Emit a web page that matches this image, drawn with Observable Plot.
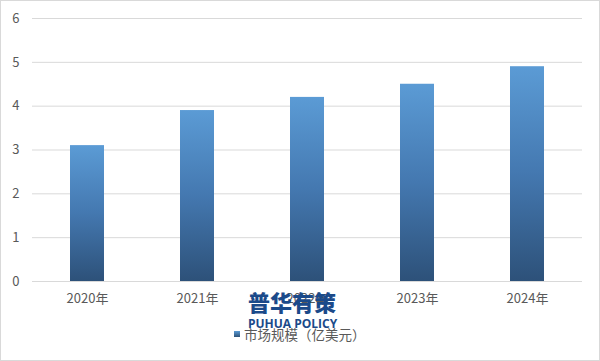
<!DOCTYPE html>
<html>
<head>
<meta charset="utf-8">
<script src="https://cdn.jsdelivr.net/npm/d3@7"></script>
<script src="https://cdn.jsdelivr.net/npm/@observablehq/plot@0.6"></script>
<style>
  body { margin: 0; background: #fff; }
  #wrap { position: relative; width: 600px; height: 361px; overflow: hidden; background: #fff;
          font-family: "Noto Sans CJK SC", "Microsoft YaHei", sans-serif; }
  #border { position: absolute; left: 0; top: 0; width: 600px; height: 361px; box-sizing: border-box;
            border: 1px solid #d9d9d9; pointer-events: none; }
  #chart { position: absolute; left: 0; top: 0; }
  #legend { position: absolute; left: 234px; top: 324px; display: flex; align-items: center;
            font-size: 13.5px; color: #595959; white-space: nowrap; }
  #legend .sw { width: 6px; height: 6px; margin-right: 4px;
                background: linear-gradient(#5b9bd5, #2e5278); }
  #wm { position: absolute; left: 248px; top: 288px; color: #1b4a8a; text-align: center; width: 88px; white-space: nowrap; }
  #wm .cn { font-size: 22px; font-weight: 900; line-height: 26px; }
  #wm .en { font-size: 12px; font-weight: 700; line-height: 13px; margin-top: 3px; font-family: "Open Sans", sans-serif; }
</style>
</head>
<body>
<div id="wrap">
  <div id="chart"></div>
  <div id="legend"><span class="sw"></span><span id="legtext"></span></div>
  <div id="wm"><div class="cn">普华有策</div><div class="en">PUHUA POLICY</div></div>
  <div id="border"></div>
</div>
<script>
const categories = ["2020年", "2021年", "2022年", "2023年", "2024年"];
const values = [3.1, 3.9, 4.2, 4.5, 4.9];
const yTicks = [0, 1, 2, 3, 4, 5, 6];
const seriesName = "市场规模（亿美元）";

const data = categories.map((c, i) => ({ year: c, value: values[i] }));

const chart = Plot.plot({
  width: 600,
  height: 320,
  marginTop: 18,
  marginBottom: 39,
  marginLeft: 32,
  marginRight: 18,
  style: { fontFamily: "'Noto Sans CJK SC', sans-serif", fontSize: "12px", color: "#595959", background: "transparent" },
  x: { domain: categories, paddingInner: 0.69, paddingOuter: 0.345, label: null },
  y: { domain: [0, 6], label: null },
  marks: [
    Plot.gridY(yTicks, { stroke: "#d9d9d9", strokeOpacity: 1, strokeWidth: 1 }),
    Plot.barY(data, { x: "year", y: "value", fill: "url(#barGrad)" }),
    Plot.axisX({ tickSize: 0, tickPadding: 12, fontSize: 13, fill: "#595959", label: null }),
    Plot.axisY({ ticks: yTicks, tickFormat: d => String(d), tickSize: 0, tickPadding: 13, fontSize: 13, fill: "#595959", label: null })
  ]
});

const ns = "http://www.w3.org/2000/svg";
const defs = document.createElementNS(ns, "defs");
const grad = document.createElementNS(ns, "linearGradient");
grad.setAttribute("id", "barGrad");
grad.setAttribute("x1", "0"); grad.setAttribute("y1", "0");
grad.setAttribute("x2", "0"); grad.setAttribute("y2", "1");
[["0%", "#5b9bd5"], ["50%", "#4478b0"], ["100%", "#2d5179"]].forEach(([o, c]) => {
  const s = document.createElementNS(ns, "stop");
  s.setAttribute("offset", o); s.setAttribute("stop-color", c);
  grad.appendChild(s);
});
defs.appendChild(grad);
chart.insertBefore(defs, chart.firstChild);

document.getElementById("chart").appendChild(chart);
document.getElementById("legtext").textContent = seriesName;
</script>
</body>
</html>
